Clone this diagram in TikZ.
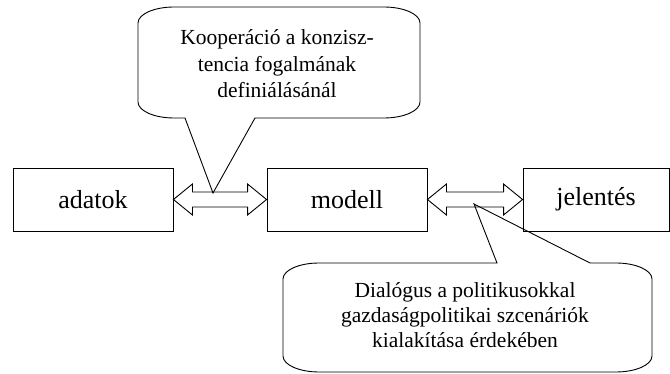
\documentclass[tikz,border=0pt]{standalone}
\usepackage{fontspec}
\setmainfont{Liberation Serif}
\usetikzlibrary{calc}
\begin{document}
\begin{tikzpicture}[x=1pt,y=-1pt,line width=0.9pt,
  box/.style={draw,minimum width=160pt,minimum height=63pt,inner sep=0pt,font=\fontsize{26}{30}\selectfont},
  calltext/.style={align=center,inner sep=0pt},
  bubble/.style={draw,line join=miter},
  blockarrow/.style={draw,line join=miter}]
\useasboundingbox (0,0) rectangle (670,374);
% boxes
\node[box] (adatok) at (93,199.5) {adatok};
\node[box] (modell) at (347,199.5) {modell};
\node[box,minimum width=146pt] (jelentes) at (596,199.5) {jelentés};
% double block arrows
\draw[blockarrow] (adatok.east) -- ++(19,-15.5) -- ++(0,8)
  -- ($(modell.west)+(-19,-7.5)$) -- ++(0,-8) -- (modell.west)
  -- ++(-19,15.5) -- ++(0,-8) -- ($(adatok.east)+(19,7.5)$) -- ++(0,8) -- cycle;
\draw[blockarrow] (modell.east) -- ++(19,-15.5) -- ++(0,8)
  -- ($(jelentes.west)+(-19,-7.5)$) -- ++(0,-8) -- (jelentes.west)
  -- ++(-19,15.5) -- ++(0,-8) -- ($(modell.east)+(19,7.5)$) -- ++(0,8) -- cycle;
% callout 1
\draw[bubble] (174,7) -- (384,7) .. controls (403.9,7) and (420,14.2) .. (420,23)
  -- (420,102) .. controls (420,110.8) and (403.9,118) .. (384,118)
  -- (255,118) -- (213,193) -- (185,118) -- (174,118)
  .. controls (154.1,118) and (138,110.8) .. (138,102)
  -- (138,23) .. controls (138,14.2) and (154.1,7) .. (174,7) -- cycle;
\node[calltext,font=\fontsize{21.5}{26.5}\selectfont] (c1) at (277,64)
  {Kooperáció a konzisz-\\tencia fogalmának\\definiálásánál};
% callout 2
\draw[bubble] (319,263) -- (497,263) -- (474,204) -- (590,263) -- (616,263)
  .. controls (635.9,263) and (652,270.2) .. (652,279)
  -- (652,356) .. controls (652,364.8) and (635.9,372) .. (616,372)
  -- (319,372) .. controls (299.1,372) and (283,364.8) .. (283,356)
  -- (283,279) .. controls (283,270.2) and (299.1,263) .. (319,263) -- cycle;
\node[calltext,font=\fontsize{21.5}{25}\selectfont] (c2) at (465,315)
  {Dialógus a politikusokkal\\gazdaságpolitikai szcenáriók\\kialakítása érdekében};
\end{tikzpicture}
\end{document}
